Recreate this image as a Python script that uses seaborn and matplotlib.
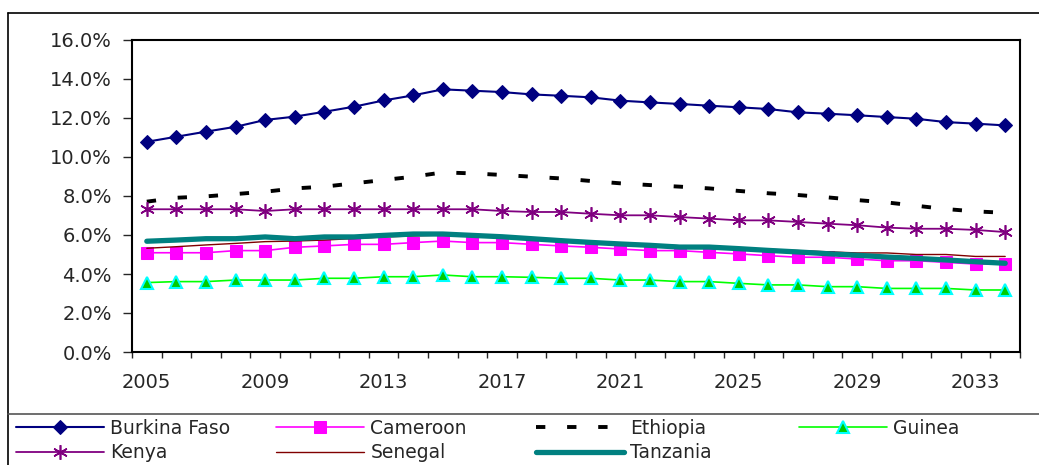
import matplotlib
matplotlib.use("Agg")
import matplotlib.pyplot as plt
import seaborn as sns
import pandas as pd
from matplotlib.ticker import PercentFormatter
from matplotlib.lines import Line2D

# ---- data (share, in %) ----
years = list(range(2005, 2035))
tick_years = [2005, 2009, 2013, 2017, 2021, 2025, 2029, 2033]

burkina_faso = [10.78, 11.04, 11.30, 11.55, 11.90, 12.07, 12.32, 12.58, 12.90, 13.16,
                13.47, 13.40, 13.33, 13.21, 13.14, 13.06, 12.89, 12.80, 12.72, 12.63,
                12.55, 12.46, 12.29, 12.22, 12.14, 12.05, 11.96, 11.79, 11.71, 11.62]
cameroon = [5.09, 5.09, 5.09, 5.20, 5.20, 5.37, 5.44, 5.52, 5.52, 5.61,
            5.69, 5.61, 5.61, 5.52, 5.44, 5.37, 5.28, 5.20, 5.20, 5.11,
            5.03, 4.94, 4.86, 4.86, 4.77, 4.68, 4.68, 4.60, 4.51, 4.51]
ethiopia = [7.71, 7.91, 7.98, 8.10, 8.22, 8.39, 8.48, 8.65, 8.82, 8.99,
            9.21, 9.16, 9.08, 8.99, 8.90, 8.77, 8.65, 8.56, 8.48, 8.39,
            8.26, 8.14, 8.05, 7.93, 7.79, 7.67, 7.50, 7.33, 7.21, 7.14]
guinea = [3.56, 3.61, 3.61, 3.69, 3.69, 3.69, 3.78, 3.78, 3.86, 3.86,
          3.95, 3.86, 3.86, 3.83, 3.78, 3.78, 3.69, 3.69, 3.61, 3.61,
          3.52, 3.44, 3.44, 3.35, 3.35, 3.26, 3.26, 3.26, 3.18, 3.18]
kenya = [7.32, 7.32, 7.32, 7.32, 7.23, 7.32, 7.32, 7.32, 7.32, 7.32,
         7.32, 7.32, 7.23, 7.18, 7.18, 7.09, 7.01, 7.01, 6.92, 6.84,
         6.75, 6.75, 6.67, 6.58, 6.50, 6.38, 6.32, 6.32, 6.26, 6.15]
senegal = [5.32, 5.40, 5.49, 5.57, 5.66, 5.69, 5.74, 5.82, 5.90, 5.95,
           6.00, 5.95, 5.88, 5.80, 5.72, 5.65, 5.58, 5.52, 5.45, 5.40,
           5.33, 5.27, 5.20, 5.14, 5.08, 5.08, 5.00, 5.00, 4.90, 4.90]
tanzania = [5.68, 5.74, 5.81, 5.81, 5.90, 5.81, 5.90, 5.90, 5.98, 6.05,
            6.05, 5.98, 5.91, 5.81, 5.71, 5.62, 5.54, 5.47, 5.38, 5.38,
            5.30, 5.21, 5.13, 5.04, 4.96, 4.87, 4.80, 4.72, 4.63, 4.55]

df = pd.DataFrame({"year": years, "Burkina Faso": burkina_faso, "Cameroon": cameroon,
                   "Ethiopia": ethiopia, "Guinea": guinea, "Kenya": kenya,
                   "Senegal": senegal, "Tanzania": tanzania})

sns.set_style("white")
plt.rcParams["font.family"] = ["DejaVu Sans"]

fig = plt.figure(figsize=(10.39, 4.65), dpi=100)
ax = fig.add_axes([132 / 1039, 1 - 352 / 465, (1020 - 132) / 1039, (352 - 40) / 465])

# series styles
styles = {
    "Burkina Faso": dict(color="#000080", lw=1.5, marker="D", ms=7.5, mfc="#000080", mec="#000080"),
    "Cameroon": dict(color="#FF00FF", lw=1.2, marker="s", ms=8.5, mfc="#FF00FF", mec="#FF00FF"),
    "Ethiopia": dict(color="black", lw=2.8, linestyle=(0, (2.4, 5.6))),
    "Guinea": dict(color="#00FF00", lw=1.2, marker="^", ms=9, mfc="#00CC00", mec="#00FFFF", mew=1.5),
    "Kenya": dict(color="#800080", lw=1.3, marker=(6, 2, 0), ms=10.5, mec="#800080", mew=1.2),
    "Senegal": dict(color="#800000", lw=1.0),
    "Tanzania": dict(color="#008080", lw=3.8, solid_capstyle="round"),
}

for name, st in styles.items():
    sns.lineplot(data=df, x="year", y=name, ax=ax, label=name, **st)

handles, labels = ax.get_legend_handles_labels()
ax.get_legend().remove()

ax.set_xlim(2004.5, 2034.5)
ax.set_ylim(0, 16)
ax.set_yticks(range(0, 17, 2))
ax.yaxis.set_major_formatter(PercentFormatter(decimals=1))
ax.set_xticks(tick_years)
ax.set_xticks([y - 0.5 for y in years] + [2034.5], minor=True)
ax.tick_params(axis="x", which="major", length=0, pad=15, labelsize=14)
ax.tick_params(axis="x", which="minor", length=4.5, width=1, direction="out", bottom=True)
ax.tick_params(axis="y", length=6.5, width=1, direction="out", left=True, pad=8, labelsize=14)
ax.set_xlabel("")
ax.set_ylabel("")
for sp in ax.spines.values():
    sp.set_visible(True)
    sp.set_color("black")
    sp.set_linewidth(1.5)

# chart area frame and legend separator
W, H = 1039, 465
fig.add_artist(Line2D([8 / W, 8 / W], [0, 1 - 13 / H], color="black", lw=1.2))
fig.add_artist(Line2D([8 / W, 1], [1 - 13 / H, 1 - 13 / H], color="black", lw=1.2))
fig.add_artist(Line2D([8 / W, 1], [1 - 414 / H, 1 - 414 / H], color="#555555", lw=1.2))

# legend, 4 equal-width columns
lut = dict(zip(labels, handles))
columns = [["Burkina Faso", "Kenya"], ["Cameroon", "Senegal"], ["Ethiopia", "Tanzania"], ["Guinea"]]
col_x = [10, 270, 530, 793]
for cx, col in zip(col_x, columns):
    fig.legend([lut[c] for c in col], col, loc="upper left",
               bbox_to_anchor=(cx / W, 1 - 413 / H), frameon=False, fontsize=13.5,
               handlelength=4.7, handletextpad=0.35, labelspacing=0.3,
               borderaxespad=0.1, borderpad=0.2)

fig.savefig("out.png", dpi=100)
